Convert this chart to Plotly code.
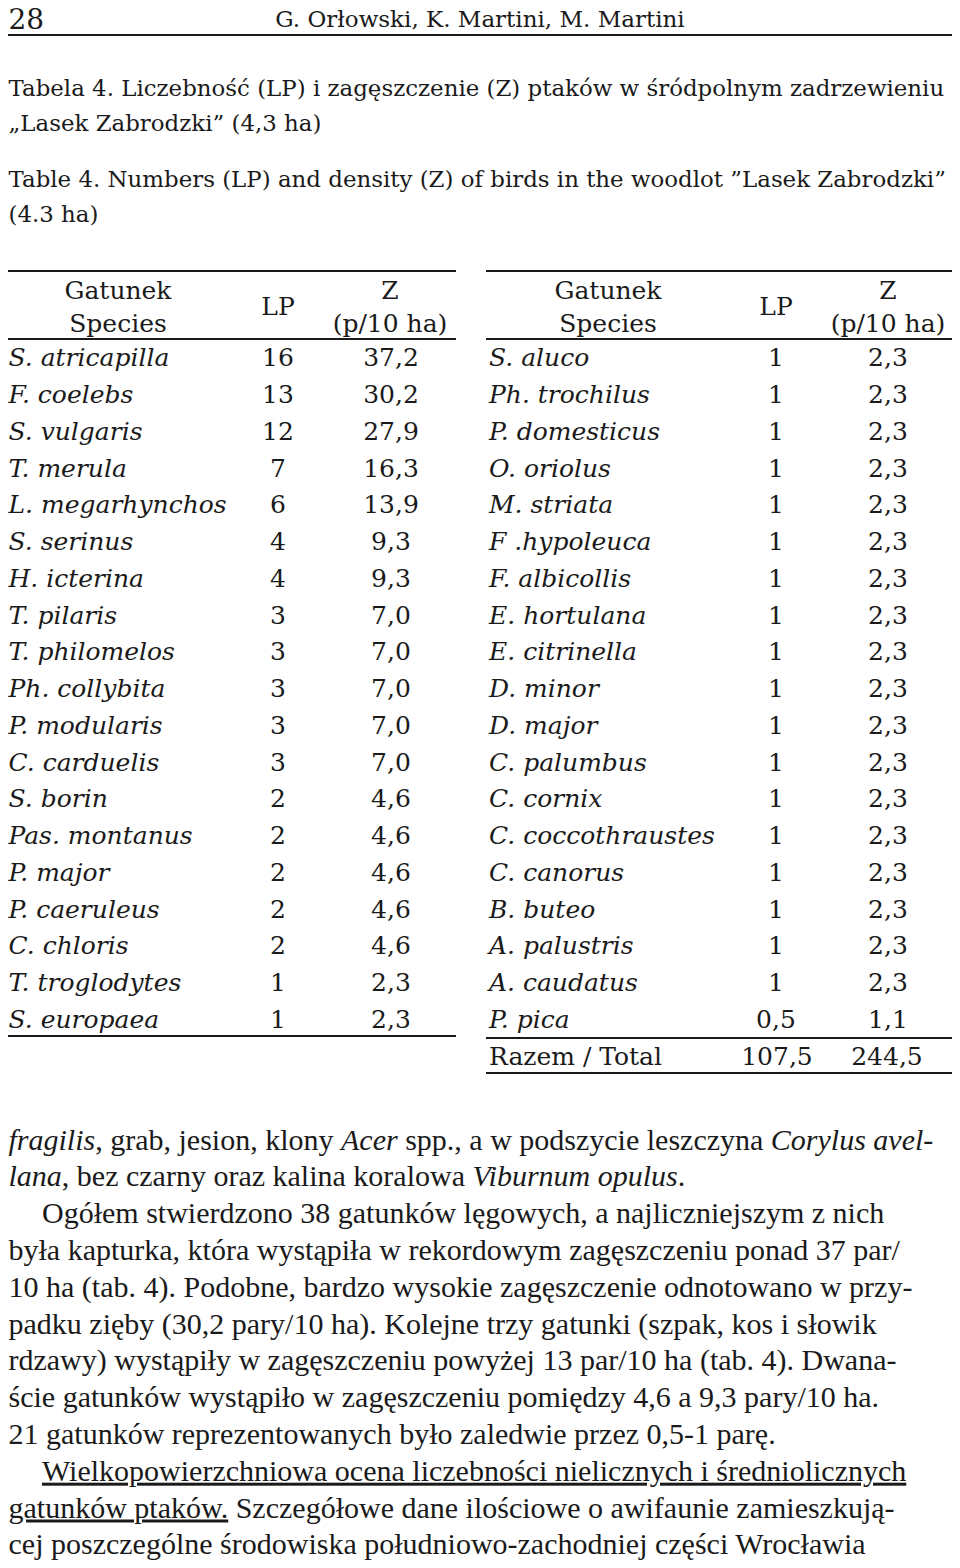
import plotly.graph_objects as go

# ── Table data ────────────────────────────────────────────────────────────────
left_species = [
    "S. atricapilla", "F. coelebs", "S. vulgaris", "T. merula", "L. megarhynchos",
    "S. serinus", "H. icterina", "T. pilaris", "T. philomelos", "Ph. collybita",
    "P. modularis", "C. carduelis", "S. borin", "Pas. montanus", "P. major",
    "P. caeruleus", "C. chloris", "T. troglodytes", "S. europaea",
]
left_lp = ["16", "13", "12", "7", "6", "4", "4", "3", "3", "3", "3", "3",
           "2", "2", "2", "2", "2", "1", "1"]
left_z = ["37,2", "30,2", "27,9", "16,3", "13,9", "9,3", "9,3", "7,0", "7,0", "7,0",
          "7,0", "7,0", "4,6", "4,6", "4,6", "4,6", "4,6", "2,3", "2,3"]

right_species = [
    "S. aluco", "Ph. trochilus", "P. domesticus", "O. oriolus", "M. striata",
    "F .hypoleuca", "F. albicollis", "E. hortulana", "E. citrinella", "D. minor",
    "D. major", "C. palumbus", "C. cornix", "C. coccothraustes", "C. canorus",
    "B. buteo", "A. palustris", "A. caudatus", "P. pica",
]
right_lp = ["1"] * 18 + ["0,5"]
right_z = ["2,3"] * 18 + ["1,1"]

total_label = "Razem / Total"
total_lp = "107,5"
total_z = "244,5"

header_species = "Gatunek<br>Species"
header_lp = "LP"
header_z = "Z<br>(p/10 ha)"

page_no = "28"
running_head = "G. Orłowski, K. Martini, M. Martini"
caption_lines = [
    "Tabela 4. Liczebność (LP) i zagęszczenie (Z) ptaków w śródpolnym zadrzewieniu",
    "„Lasek Zabrodzki” (4,3 ha)",
    "Table 4. Numbers (LP) and density (Z) of birds in the woodlot ”Lasek Zabrodzki”",
    "(4.3 ha)",
]
body_lines = [
    "<i>fragilis</i>, grab, jesion, klony <i>Acer</i> spp., a w podszycie leszczyna <i>Corylus avel-</i>",
    "<i>lana</i>, bez czarny oraz kalina koralowa <i>Viburnum opulus</i>.",
    "Ogółem stwierdzono 38 gatunków lęgowych, a najliczniejszym z nich",
    "była kapturka, która wystąpiła w rekordowym zagęszczeniu ponad 37 par/",
    "10 ha (tab. 4). Podobne, bardzo wysokie zagęszczenie odnotowano w przy-",
    "padku zięby (30,2 pary/10 ha). Kolejne trzy gatunki (szpak, kos i słowik",
    "rdzawy) wystąpiły w zagęszczeniu powyżej 13 par/10 ha (tab. 4). Dwana-",
    "ście gatunków wystąpiło w zagęszczeniu pomiędzy 4,6 a 9,3 pary/10 ha.",
    "21 gatunków reprezentowanych było zaledwie przez 0,5-1 parę.",
    "<u>Wielkopowierzchniowa ocena liczebności nielicznych i średniolicznych</u>",
    "<u>gatunków ptaków.</u> Szczegółowe dane ilościowe o awifaunie zamieszkują-",
    "cej poszczególne środowiska południowo-zachodniej części Wrocławia",
]
body_indent = [False, False, True, False, False, False, False, False, False, True, False, False]

# ── Layout constants ──────────────────────────────────────────────────────────
# page body has an 8px margin, so the figure is 944 wide and the axes map page pixels
PAGE_W, PAGE_H, PAD = 960, 1568, 8
TAB_FONT = "DejaVu Serif"
BODY_FONT = "Liberation Serif"
INK = "#1a1a1a"
ROW0, ROW_STEP = 357, 36.75
BODY0, BODY_STEP = 1139, 36.8
LEFT_X = 8.5
Y_NUDGE = 3  # plotly's "middle" sits text a little high


def row_y(n):
    return [ROW0 + i * ROW_STEP for i in range(n)]


def text_trace(xs, ys, texts, pos, size=25, family=TAB_FONT):
    return go.Scatter(
        x=xs, y=[y + Y_NUDGE for y in ys], text=texts, mode="text", textposition=pos,
        textfont=dict(family=family, size=size, color=INK),
        hoverinfo="skip", showlegend=False, cliponaxis=False,
    )


fig = go.Figure()

# left table
ly = row_y(len(left_species))
fig.add_trace(text_trace([LEFT_X] * len(ly), ly, [f"<i>{s}</i>" for s in left_species], "middle right"))
fig.add_trace(text_trace([278] * len(ly), ly, left_lp, "middle center"))
fig.add_trace(text_trace([391] * len(ly), ly, left_z, "middle center"))

# right table
ry = row_y(len(right_species))
fig.add_trace(text_trace([489] * len(ry), ry, [f"<i>{s}</i>" for s in right_species], "middle right"))
fig.add_trace(text_trace([776] * len(ry), ry, right_lp, "middle center"))
fig.add_trace(text_trace([888] * len(ry), ry, right_z, "middle center"))
ty = ROW0 + len(right_species) * ROW_STEP
fig.add_trace(text_trace([489], [ty], [total_label], "middle right"))
fig.add_trace(text_trace([777], [ty], [total_lp], "middle center"))
fig.add_trace(text_trace([887], [ty], [total_z], "middle center"))

# headers
fig.add_trace(text_trace([118, 608], [306, 306], [header_species] * 2, "middle center"))
fig.add_trace(text_trace([278, 776], [306, 306], [header_lp] * 2, "middle center"))
fig.add_trace(text_trace([390, 888], [306, 306], [header_z] * 2, "middle center"))

# rules
rules = [
    (4, 456, 271), (4, 456, 339), (4, 456, 1036),
    (486, 955, 271), (486, 955, 339), (486, 955, 1038), (486, 955, 1073),
]
for x0, x1, y in rules:
    fig.add_shape(type="line", x0=x0, x1=x1, y0=y, y1=y, xref="x", yref="y",
                  line=dict(color=INK, width=1.8))
fig.add_shape(type="line", x0=0, x1=PAGE_W, y0=35, y1=35, xref="x", yref="y",
              line=dict(color=INK, width=1.8))

# page head and caption
fig.add_trace(text_trace([LEFT_X], [19], [page_no], "middle right", size=28))
fig.add_trace(text_trace([480], [18], [running_head], "middle center", size=23))
cap_y = [87, 122, 178, 213]
fig.add_trace(text_trace([LEFT_X] * 4, cap_y, caption_lines, "middle right", size=22.9))

# body text
by = [BODY0 + i * BODY_STEP for i in range(len(body_lines))]
bx = [42 if ind else LEFT_X for ind in body_indent]
fig.add_trace(text_trace(bx, by, body_lines, "middle right", size=30, family=BODY_FONT))

fig.update_layout(
    width=PAGE_W - 2 * PAD, height=PAGE_H - 2 * PAD,
    margin=dict(l=0, r=0, t=0, b=0),
    paper_bgcolor="white", plot_bgcolor="white",
    xaxis=dict(range=[PAD, PAGE_W - PAD], visible=False, fixedrange=True),
    yaxis=dict(range=[PAGE_H - PAD, PAD], visible=False, fixedrange=True),
)
fig.write_html("out.html")
